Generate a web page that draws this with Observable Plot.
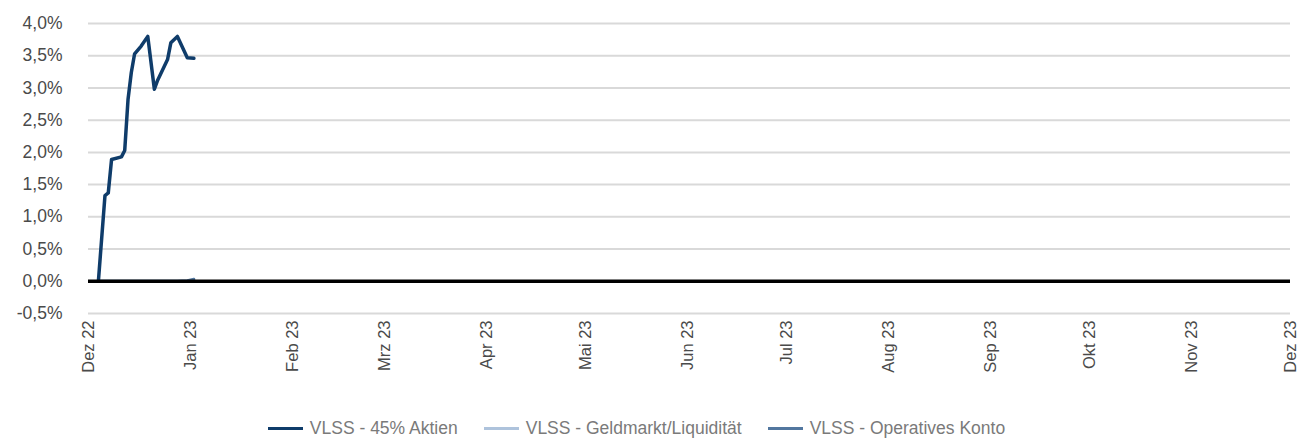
<!DOCTYPE html>
<html>
<head>
<meta charset="utf-8">
<script src="https://cdn.jsdelivr.net/npm/d3@7"></script>
<script src="https://cdn.jsdelivr.net/npm/@observablehq/plot@0.6"></script>
<style>
  html, body { margin: 0; padding: 0; background: #fff; }
  body { width: 1297px; height: 439px; overflow: hidden; font-family: "Liberation Sans", Arial, sans-serif; }
  #legend { display: flex; justify-content: center; align-items: center; gap: 26px; padding-top: 33px; height: 20px; padding-right: 24px;
            font-size: 17.5px; color: #7a7a7a; }
  .item { display: flex; align-items: center; white-space: nowrap; }
  .sw { width: 35px; height: 3px; margin-right: 7px; }
</style>
</head>
<body>
<div id="chart"></div>
<div id="legend"></div>
<script>
// ---- data ----
const dates = ["2022-12-04","2022-12-06","2022-12-07","2022-12-08","2022-12-11","2022-12-12","2022-12-13","2022-12-14","2022-12-15","2022-12-17","2022-12-19","2022-12-21","2022-12-22","2022-12-25","2022-12-26","2022-12-28","2022-12-31","2023-01-02"];
const aktien =     [0, 1.33, 1.37, 1.89, 1.93, 2.03, 2.82, 3.24, 3.53, 3.65, 3.80, 2.98, 3.12, 3.44, 3.70, 3.80, 3.47, 3.46];
const geldmarkt =  [0, 0, 0, 0, 0, 0, 0, 0, 0, 0, 0, 0, 0, 0, 0, 0, 0, 0];
const konto =      [0, 0, 0, 0, 0, 0, 0, 0, 0, 0, 0, 0, 0, 0, 0, 0, 0.01, 0.03];
const seriesNames = ["VLSS - 45% Aktien", "VLSS - Geldmarkt/Liquidität", "VLSS - Operatives Konto"];
const seriesColors = ["#0f3c6a", "#aec3dc", "#52779f"];
const monthNames = ["Jan","Feb","Mrz","Apr","Mai","Jun","Jul","Aug","Sep","Okt","Nov","Dez"];
const xTicks = ["2022-12-01","2023-01-01","2023-02-01","2023-03-01","2023-04-01","2023-05-01","2023-06-01","2023-07-01","2023-08-01","2023-09-01","2023-10-01","2023-11-01","2023-12-01"];
const yTicks = [-0.5, 0, 0.5, 1, 1.5, 2, 2.5, 3, 3.5, 4];

// ---- build rows ----
const seriesValues = [aktien, geldmarkt, konto];
const rows = [];
seriesValues.forEach((vals, s) => vals.forEach((v, i) => rows.push({date: new Date(dates[i]), value: v, series: seriesNames[s]})));
const order = [1, 2, 0];

const fmtY = d => d.toFixed(1).replace(".", ",") + "%";
const fmtX = d => monthNames[d.getUTCMonth()] + " " + String(d.getUTCFullYear()).slice(2);

const chart = Plot.plot({
  width: 1297,
  height: 385,
  marginLeft: 88,
  marginRight: 7,
  marginTop: 23,
  marginBottom: 72,
  style: {fontFamily: "Liberation Sans, Arial, sans-serif", color: "#4a4a4a", background: "#fff", overflow: "visible"},
  x: {type: "utc", domain: [new Date(xTicks[0]), new Date(xTicks[xTicks.length - 1])]},
  y: {domain: [-0.5, 4.0]},
  marks: [
    Plot.gridY(yTicks, {stroke: "#d9d9d9", strokeOpacity: 1, strokeWidth: 2}),
    Plot.axisY(yTicks, {tickSize: 0, tickPadding: 26, tickFormat: fmtY, fontSize: 17.5, label: null}),
    Plot.axisX(xTicks.map(d => new Date(d)), {tickSize: 0, tickPadding: 7, tickRotate: -90, tickFormat: fmtX, fontSize: 16.5, label: null}),
    ...order.map(s => Plot.lineY(rows.filter(r => r.series === seriesNames[s]), {x: "date", y: "value", stroke: seriesColors[s], strokeWidth: s === 0 ? 3.5 : 3})),
    Plot.ruleY([0], {stroke: "#000", strokeWidth: 3.5})
  ]
});
document.getElementById("chart").appendChild(chart);

const legend = document.getElementById("legend");
seriesNames.forEach((n, i) => {
  const it = document.createElement("div");
  it.className = "item";
  it.innerHTML = `<span class="sw" style="background:${seriesColors[i]}"></span><span>${n}</span>`;
  legend.appendChild(it);
});
</script>
</body>
</html>
